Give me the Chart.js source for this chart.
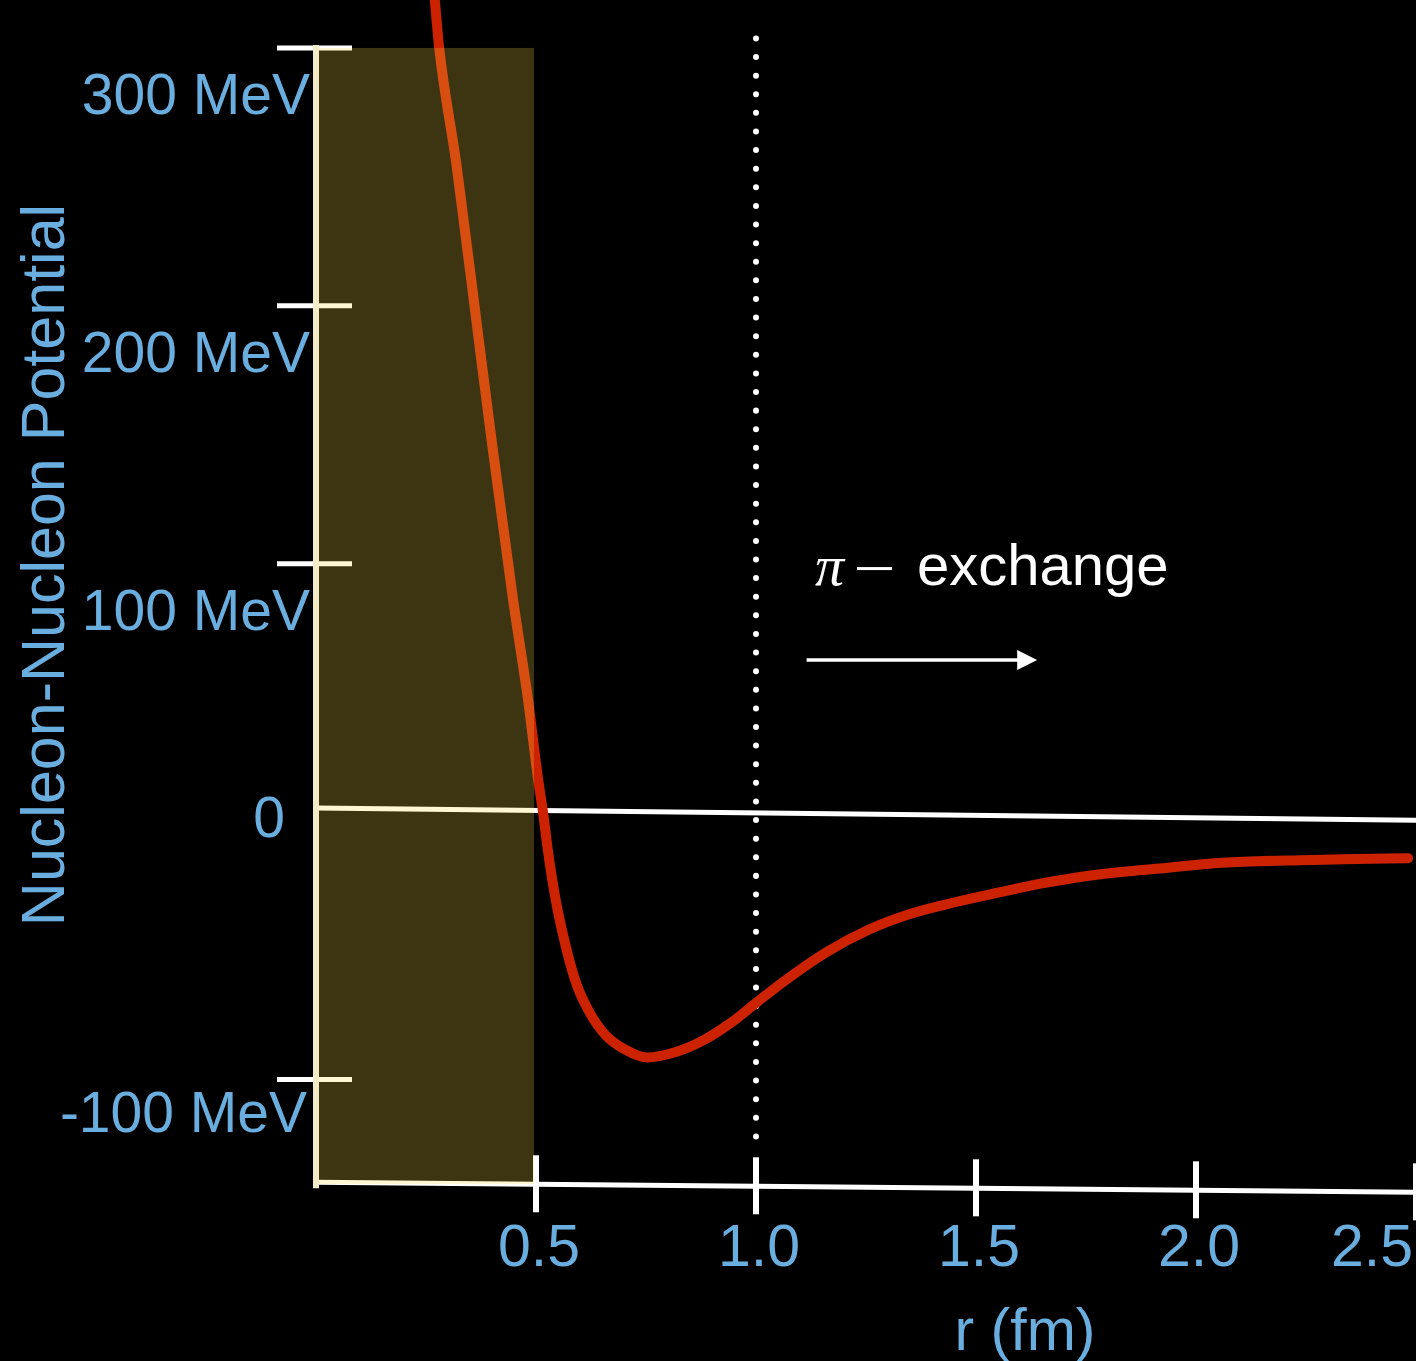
<!DOCTYPE html>
<html>
<head>
<meta charset="utf-8">
<title>Nucleon-Nucleon Potential</title>
<script src="https://cdn.jsdelivr.net/npm/chart.js@4.4.1/dist/chart.umd.min.js"></script>
<style>
  html, body { margin: 0; padding: 0; background: #000; overflow: hidden; }
  canvas { display: block; }
</style>
</head>
<body>
<canvas id="potential" width="1416" height="1361"></canvas>
<script>
// Nucleon-nucleon potential V(r): separation r in fm, potential in MeV
const radius = [0.268, 0.280, 0.320, 0.368, 0.402, 0.448, 0.482, 0.505, 0.516, 0.527,
                0.545, 0.570, 0.593, 0.623, 0.657, 0.702, 0.752, 0.816, 0.880,
                0.941, 1.002, 1.061, 1.159, 1.257, 1.355, 1.452, 1.552, 1.650, 1.748,
                1.845, 1.943, 2.041, 2.139, 2.236, 2.334, 2.482];
const potential = [322.6, 300, 253.8, 189.4, 144, 85.9, 47.1, 16.1, 3.6, -11.2,
                   -30.6, -50, -63.5, -74.4, -82.6, -88.4, -91.5, -89.5, -84.9,
                   -78.3, -70.1, -62.3, -50.8, -41.9, -35.6, -31.3, -27.5, -24, -21.2,
                   -19.3, -17.8, -16.2, -15.4, -15, -14.6, -14.2];

// zero-potential reference line (as drawn, slightly sloping)
const zeroLineR = [0, 2.5];
const zeroLineV = [5.2, 0.5];

// repulsive core region and start of the pion-exchange range
const coreR = [0, 0.5];
const coreTopV = 300;
const pionStartR = 1.0;
const pionLineV = [303.7, -129];

// axis ticks and labels
const xTickValues = [0.5, 1.0, 1.5, 2.0, 2.5];
const xTickLabels = ['0.5', '1.0', '1.5', '2.0', '2.5'];
const yTickValues = [300, 200, 100, -100];
const yLabelValues = [300, 200, 100, 0, -100];
const yLabels = ['300 MeV', '200 MeV', '100 MeV', '0', '-100 MeV'];
const xTitle = 'r (fm)';
const yTitle = 'Nucleon-Nucleon Potential';
const note = 'exchange';

const SANS = '"Liberation Sans", Arial, Helvetica, sans-serif';
const BLUE = '#6aaee0';
const CREAM = '#f3ebc6';

function seg(ctx, x0, y0, x1, y1) {
  ctx.beginPath(); ctx.moveTo(x0, y0); ctx.lineTo(x1, y1); ctx.stroke();
}

const decorations = {
  id: 'decorations',
  beforeDatasetsDraw(chart) {
    const { ctx, scales: { x, y } } = chart;
    const axL = y.getPixelForValue(-139.9), axR = y.getPixelForValue(-143.8);
    const x0 = x.getPixelForValue(0), x1 = x.getPixelForValue(2.5);
    ctx.save();
    ctx.strokeStyle = '#ffffff';
    ctx.lineCap = 'butt';
    // r axis
    ctx.lineWidth = 5;
    seg(ctx, x0, axL, x1, axR);
    // r ticks
    ctx.lineWidth = 6;
    xTickValues.forEach(v => {
      const px = x.getPixelForValue(v);
      const py = axL + (axR - axL) * (px - x0) / (x1 - x0);
      seg(ctx, px, py - 29, px, py + 28);
    });
    // potential ticks
    ctx.lineWidth = 5;
    yTickValues.forEach(v => {
      const py = y.getPixelForValue(v);
      seg(ctx, x0 - 39, py, x0 + 36, py);
    });
    ctx.restore();
  },
  afterDatasetsDraw(chart) {
    const { ctx, scales: { x, y } } = chart;
    const x0 = x.getPixelForValue(coreR[0]);
    const x1 = x.getPixelForValue(coreR[1]);
    const top = y.getPixelForValue(coreTopV);
    const bottom = y.getPixelForValue(-140.6);
    ctx.save();
    // translucent shading of the short-range core
    ctx.fillStyle = 'rgba(255, 222, 70, 0.24)';
    ctx.fillRect(x0 - 3, top, x1 - x0 + 1, bottom - top);
    // potential axis
    ctx.strokeStyle = CREAM;
    ctx.lineWidth = 6;
    seg(ctx, x0, top - 3, x0, y.getPixelForValue(-142.2));
    ctx.restore();
  },
  afterDraw(chart) {
    const { ctx, scales: { x, y } } = chart;
    const W = chart.width;
    ctx.save();
    ctx.fillStyle = BLUE;

    // potential tick labels
    const yLabelPlace = [[310, 66], [310, 66], [310, 66], [285, 15], [307, 53]];
    ctx.font = '57px ' + SANS;
    ctx.textAlign = 'right';
    ctx.textBaseline = 'alphabetic';
    yLabelValues.forEach((v, i) => {
      ctx.fillText(yLabels[i], yLabelPlace[i][0], y.getPixelForValue(v) + yLabelPlace[i][1]);
    });

    // r tick labels
    ctx.font = '59px ' + SANS;
    ctx.textAlign = 'center';
    xTickValues.forEach((v, i) => {
      let cx = x.getPixelForValue(v) + 3;
      const w = ctx.measureText(xTickLabels[i]).width;
      if (cx + w / 2 > W - 3) cx = W - 3 - w / 2;
      ctx.fillText(xTickLabels[i], cx, 1266);
    });

    // axis titles
    ctx.font = '59px ' + SANS;
    ctx.textAlign = 'center';
    ctx.fillText(xTitle, 1025, 1350);
    ctx.save();
    ctx.translate(64, 565);
    ctx.rotate(-Math.PI / 2);
    ctx.font = '61px ' + SANS;
    ctx.fillText(yTitle, 0, 0);
    ctx.restore();

    // pion-exchange note and arrow
    const nx = x.getPixelForValue(1.134);
    const ny = y.getPixelForValue(91.7);
    ctx.fillStyle = '#ffffff';
    ctx.textAlign = 'left';
    ctx.font = 'italic 58px "Liberation Serif", "DejaVu Serif", serif';
    ctx.fillText('\u03c0', nx, ny);
    ctx.fillRect(nx + 42, ny - 18, 35, 3);
    ctx.font = '58px ' + SANS;
    ctx.fillText(note, nx + 102, ny);

    const ay = y.getPixelForValue(62.6);
    const a0 = x.getPixelForValue(1.115), a1 = x.getPixelForValue(1.639);
    ctx.strokeStyle = '#ffffff';
    ctx.lineWidth = 3.5;
    seg(ctx, a0, ay, a1 - 18, ay);
    ctx.beginPath();
    ctx.moveTo(a1 - 20, ay - 10);
    ctx.lineTo(a1, ay);
    ctx.lineTo(a1 - 20, ay + 10);
    ctx.closePath();
    ctx.fill();
    ctx.restore();
  }
};

const blackBackground = {
  id: 'blackBackground',
  beforeDraw(chart) {
    const ctx = chart.ctx;
    ctx.save();
    ctx.fillStyle = '#000';
    ctx.fillRect(0, 0, chart.width, chart.height);
    ctx.restore();
  }
};

new Chart(document.getElementById('potential'), {
  type: 'line',
  data: {
    datasets: [
      {
        label: 'V(r)',
        data: radius.map((r, i) => ({ x: r, y: potential[i] })),
        borderColor: '#cc2200',
        borderWidth: 10,
        borderCapStyle: 'round',
        borderJoinStyle: 'round',
        cubicInterpolationMode: 'monotone',
        pointRadius: 0,
        order: 0
      },
      {
        label: 'pion range',
        data: pionLineV.map(v => ({ x: pionStartR, y: v })),
        borderColor: '#ffffff',
        borderWidth: 6,
        borderCapStyle: 'round',
        borderDash: [0.01, 18.6],
        pointRadius: 0,
        order: 1
      },
      {
        label: 'zero',
        data: zeroLineR.map((r, i) => ({ x: r, y: zeroLineV[i] })),
        borderColor: '#ffffff',
        borderWidth: 5,
        pointRadius: 0,
        order: 2
      }
    ]
  },
  options: {
    responsive: false,
    animation: false,
    devicePixelRatio: 1,
    layout: { padding: { left: 316, right: 0, top: 0, bottom: 163 } },
    scales: {
      x: { type: 'linear', min: 0, max: 2.5, display: false },
      y: { type: 'linear', min: -146, max: 318.6, display: false }
    },
    plugins: {
      legend: { display: false },
      tooltip: { enabled: false },
      title: { display: false }
    }
  },
  plugins: [blackBackground, decorations]
});
</script>
</body>
</html>
